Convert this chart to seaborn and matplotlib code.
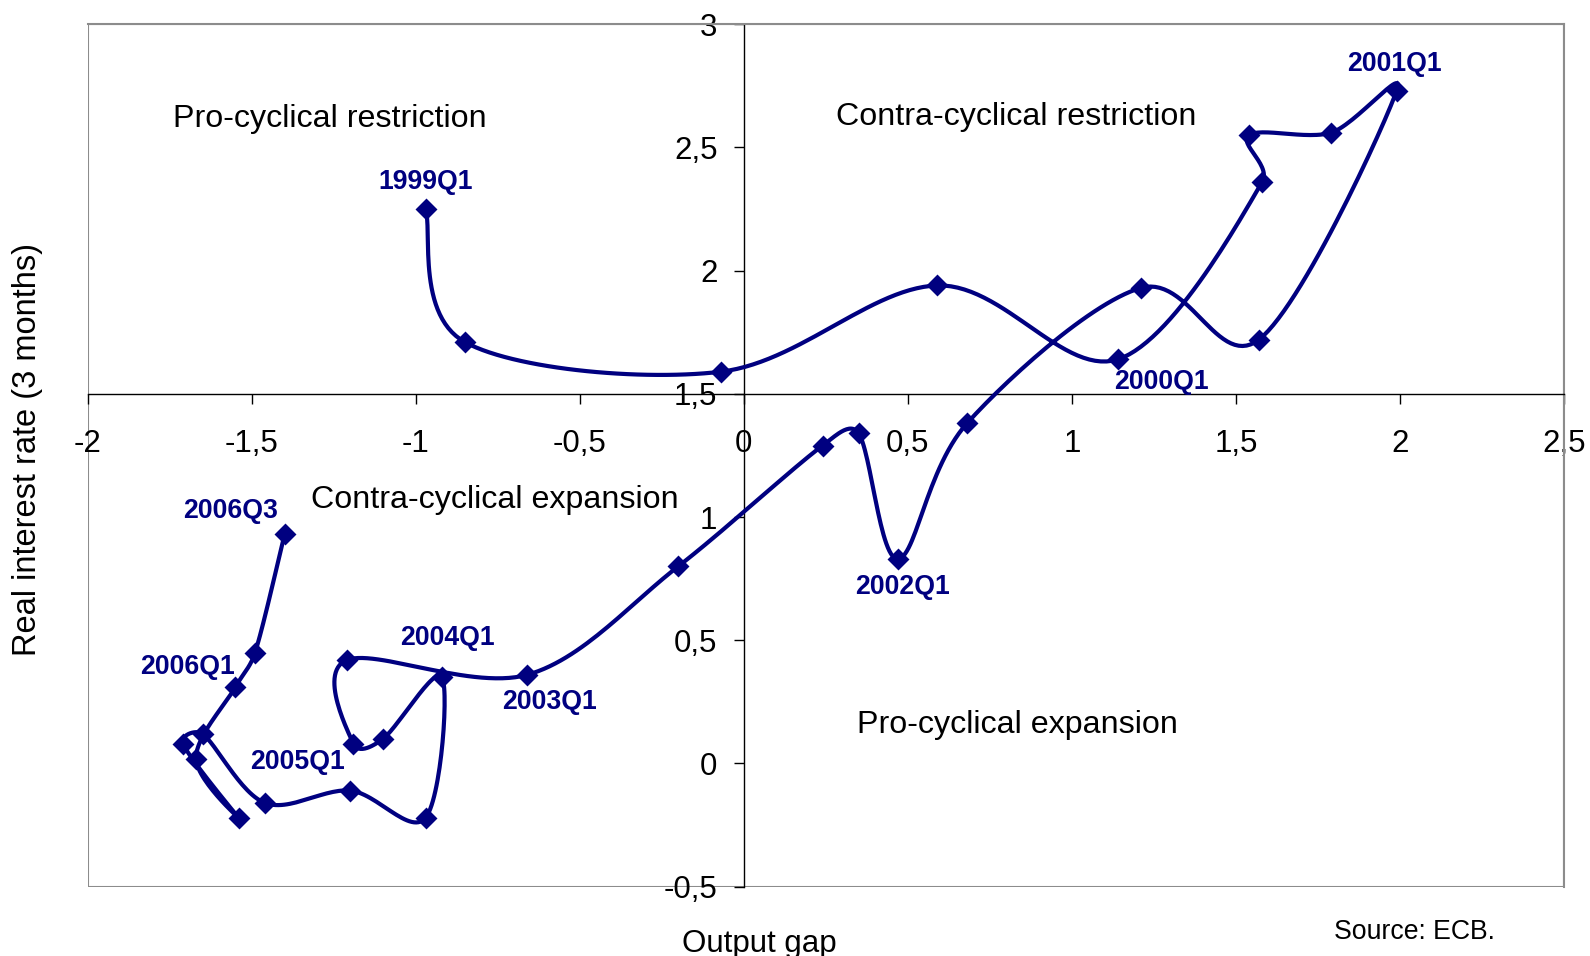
import numpy as np
import pandas as pd
import matplotlib
matplotlib.use('Agg')
import matplotlib.pyplot as plt
import seaborn as sns
from matplotlib.patches import Rectangle
from matplotlib.ticker import FuncFormatter, MultipleLocator

quarters = ['1999Q1', '1999Q2', '1999Q3', '1999Q4',
            '2000Q1', '2000Q2', '2000Q3', '2000Q4',
            '2001Q1', '2001Q2', '2001Q3', '2001Q4',
            '2002Q1', '2002Q2', '2002Q3', '2002Q4',
            '2003Q1', '2003Q2', '2003Q3', '2003Q4',
            '2004Q1', '2004Q2', '2004Q3', '2004Q4',
            '2005Q1', '2005Q2', '2005Q3', '2005Q4',
            '2006Q1', '2006Q2', '2006Q3']
output_gap = [-0.97, -0.85, -0.07, 0.59,
              1.14, 1.58, 1.54, 1.79,
              1.99, 1.57, 1.21, 0.68,
              0.47, 0.35, 0.24, -0.20,
              -0.66, -1.21, -1.19, -1.10,
              -0.92, -0.97, -1.20, -1.46,
              -1.65, -1.71, -1.54, -1.67,
              -1.55, -1.49, -1.40]
real_rate = [2.25, 1.71, 1.59, 1.94,
             1.64, 2.36, 2.55, 2.56,
             2.73, 1.72, 1.93, 1.38,
             0.83, 1.34, 1.29, 0.80,
             0.36, 0.42, 0.08, 0.10,
             0.35, -0.22, -0.11, -0.16,
             0.12, 0.08, -0.22, 0.02,
             0.31, 0.45, 0.93]
labelled = ['1999Q1', '2000Q1', '2001Q1', '2002Q1', '2003Q1',
            '2004Q1', '2005Q1', '2006Q1', '2006Q3']

# label offsets in pixels (x right, y up)
label_offsets = {'1999Q1': (0, 27), '2000Q1': (44, -23), '2001Q1': (-2, 27),
                 '2002Q1': (4, -28), '2003Q1': (22, -27), '2004Q1': (5, 39),
                 '2005Q1': (95, -28), '2006Q1': (-48, 20), '2006Q3': (-54, 23)}

navy = '#000080'
# pixels per data unit, so the smoothing works in screen proportions
XS, YS = 328.0, 246.4


def clamp(v, lim):
    n = np.linalg.norm(v)
    return v * (lim / n) if n > lim else v


def smooth(xs, ys, n=30, k=0.4):
    # Excel-like smoothed line: Catmull-Rom arms, limited on short segments
    p = np.column_stack([np.asarray(xs) * XS, np.asarray(ys) * YS])
    p = np.vstack([p[0], p, p[-1]])
    t = np.linspace(0, 1, n)[:, None]
    out = []
    for i in range(1, len(p) - 2):
        p0, p1, p2, p3 = p[i - 1], p[i], p[i + 1], p[i + 2]
        d = np.linalg.norm(p2 - p1)
        c1 = p1 + clamp((p2 - p0) / 6, k * d)
        c2 = p2 - clamp((p3 - p1) / 6, k * d)
        seg = (1 - t) ** 3 * p1 + 3 * (1 - t) ** 2 * t * c1 + 3 * (1 - t) * t ** 2 * c2 + t ** 3 * p2
        out.append(seg if i == 1 else seg[1:])
    res = np.vstack(out)
    return res[:, 0] / XS, res[:, 1] / YS


sns.set_style('white')
plt.rcParams['font.family'] = ['Liberation Sans', 'DejaVu Sans']
plt.rcParams['text.color'] = 'black'
plt.rcParams['xtick.color'] = 'black'
plt.rcParams['ytick.color'] = 'black'

fig = plt.figure(figsize=(15.9, 9.56), dpi=100)
ax = fig.add_axes([0.0552, 0.0725, 0.9284, 0.9021])

df = pd.DataFrame({'quarter': quarters, 'gap': output_gap, 'rate': real_rate})
sx, sy = smooth(df['gap'].values, df['rate'].values)
curve = pd.DataFrame({'gap': sx, 'rate': sy})

sns.lineplot(data=curve, x='gap', y='rate', sort=False, estimator=None,
             color=navy, linewidth=3, ax=ax, zorder=3)
sns.scatterplot(data=df, x='gap', y='rate', marker='D', s=125, color=navy,
                edgecolor=navy, linewidth=0, ax=ax, zorder=4)

for q in labelled:
    row = df[df['quarter'] == q].iloc[0]
    ax.annotate(q, (row['gap'], row['rate']), xytext=label_offsets[q],
                textcoords='offset pixels', ha='center', va='center',
                fontsize=19.2, fontweight='bold', color=navy, zorder=5)

ax.set_xlim(-2, 2.5)
ax.set_ylim(-0.5, 3)
ax.xaxis.set_major_locator(MultipleLocator(0.5))
ax.yaxis.set_major_locator(MultipleLocator(0.5))
fmt = FuncFormatter(lambda v, pos: f'{v:g}'.replace('.', ','))
ax.xaxis.set_major_formatter(fmt)
ax.yaxis.set_major_formatter(fmt)

ax.spines['left'].set_position(('data', 0))
ax.spines['bottom'].set_position(('data', 1.5))
for s in ['left', 'bottom']:
    ax.spines[s].set_color('black')
    ax.spines[s].set_linewidth(1)
for s in ['top', 'right']:
    ax.spines[s].set_color('#8c8c8c')
    ax.spines[s].set_linewidth(1.5)
ax.add_patch(Rectangle((0, 0), 1, 1, transform=ax.transAxes, fill=False,
                       edgecolor='#8c8c8c', linewidth=1.5, zorder=0))

ax.tick_params(axis='x', direction='out', length=7, width=1, pad=18,
               labelsize=22.5, bottom=True)
ax.tick_params(axis='y', direction='out', length=7, width=1, pad=12,
               labelsize=22.5, left=True)
ax.set_xlabel('')
ax.set_ylabel('')

quad = dict(fontsize=23.2, ha='left', va='center', color='black')
ax.text(-1.74, 2.615, 'Pro-cyclical restriction', **quad)
ax.text(0.28, 2.625, 'Contra-cyclical restriction', **quad)
ax.text(-1.32, 1.07, 'Contra-cyclical expansion', **quad)
ax.text(0.345, 0.155, 'Pro-cyclical expansion', **quad)

fig.text(759.5 / 1590, 1 - 944 / 956, 'Output gap', ha='center', va='center', fontsize=22.5)
fig.text(27.4 / 1590, 1 - 450 / 956, 'Real interest rate (3 months)', rotation=90,
         ha='center', va='center', fontsize=23.5)
fig.text(1334.5 / 1590, 1 - 932 / 956, 'Source: ECB.', ha='left', va='center', fontsize=19.2)

fig.savefig('out.png', dpi=100)
